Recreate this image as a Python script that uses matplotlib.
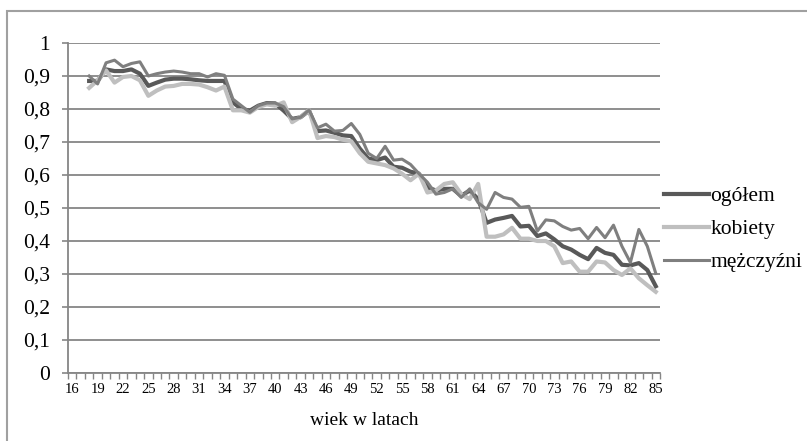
import numpy as np
import matplotlib
matplotlib.use("Agg")
import matplotlib.pyplot as plt
from matplotlib.patches import Rectangle
from matplotlib.ticker import FixedLocator, FuncFormatter

plt.rcParams['font.family'] = ['Liberation Serif', 'DejaVu Serif']

# wiek 18-85
wiek = np.arange(18, 86)

ogolem = [0.885, 0.885, 0.920, 0.915, 0.915, 0.920, 0.907, 0.870, 0.880, 0.889,
          0.892, 0.892, 0.890, 0.887, 0.885, 0.885, 0.885, 0.820, 0.800, 0.795,
          0.810, 0.818, 0.817, 0.795, 0.770, 0.775, 0.795, 0.733, 0.735, 0.728,
          0.720, 0.718, 0.680, 0.650, 0.645, 0.653, 0.625, 0.622, 0.610, 0.604,
          0.563, 0.553, 0.558, 0.558, 0.537, 0.553, 0.527, 0.455, 0.465, 0.470,
          0.476, 0.444, 0.446, 0.415, 0.423, 0.405, 0.384, 0.374, 0.358, 0.345,
          0.379, 0.364, 0.358, 0.328, 0.326, 0.333, 0.312, 0.263]

kobiety = [0.864, 0.887, 0.917, 0.880, 0.897, 0.900, 0.887, 0.840, 0.856, 0.868,
           0.870, 0.876, 0.876, 0.874, 0.866, 0.856, 0.868, 0.796, 0.796, 0.789,
           0.806, 0.814, 0.810, 0.820, 0.760, 0.776, 0.797, 0.712, 0.718, 0.715,
           0.707, 0.702, 0.666, 0.640, 0.635, 0.630, 0.620, 0.604, 0.584, 0.604,
           0.547, 0.553, 0.573, 0.578, 0.542, 0.527, 0.573, 0.413, 0.413, 0.420,
           0.440, 0.407, 0.407, 0.400, 0.400, 0.384, 0.333, 0.338, 0.307, 0.307,
           0.338, 0.335, 0.312, 0.297, 0.317, 0.287, 0.266, 0.246]

mezczyzni = [0.900, 0.876, 0.940, 0.948, 0.928, 0.938, 0.943, 0.900, 0.907, 0.912,
             0.915, 0.912, 0.907, 0.907, 0.897, 0.907, 0.902, 0.830, 0.810, 0.790,
             0.810, 0.818, 0.818, 0.807, 0.770, 0.775, 0.797, 0.743, 0.754, 0.733,
             0.735, 0.756, 0.723, 0.666, 0.650, 0.687, 0.645, 0.648, 0.632, 0.604,
             0.578, 0.542, 0.547, 0.558, 0.532, 0.558, 0.516, 0.496, 0.547, 0.532,
             0.527, 0.502, 0.505, 0.430, 0.464, 0.461, 0.444, 0.433, 0.438, 0.407,
             0.441, 0.410, 0.448, 0.384, 0.335, 0.435, 0.384, 0.302]

etykiety_x = np.arange(16, 86, 3)

fig = plt.figure(figsize=(8.07, 4.41), dpi=100)
ax = fig.add_axes([68 / 807, 1 - 373 / 441, 592 / 807, 330 / 441])

grid_col = '#868686'

ax.plot(wiek, ogolem, color='#595959', lw=3.0, label='ogółem', solid_joinstyle='round')
ax.plot(wiek, kobiety, color='#bfbfbf', lw=3.0, label='kobiety', solid_joinstyle='round')
ax.plot(wiek, mezczyzni, color='#7f7f7f', lw=2.2, label='mężczyźni', solid_joinstyle='round')

ax.set_xlim(15.5, 85.5)
ax.set_ylim(0, 1)

# y axis
ax.set_yticks(np.arange(0, 1.01, 0.1))
ax.yaxis.set_major_formatter(FuncFormatter(lambda v, p: ('%g' % round(v, 1)).replace('.', ',')))
ax.yaxis.grid(True, color=grid_col, lw=1.3)
ax.set_axisbelow(True)
ax.tick_params(axis='y', length=4, width=1.2, color=grid_col, labelsize=15.5, pad=9)

# x axis: ticks between categories, labels every third category
ax.xaxis.set_major_locator(FixedLocator(np.arange(15.5, 86, 1)))
ax.xaxis.set_major_formatter(FuncFormatter(lambda v, p: ''))
ax.xaxis.set_minor_locator(FixedLocator(etykiety_x))
ax.xaxis.set_minor_formatter(FuncFormatter(lambda v, p: '%d' % v))
ax.tick_params(axis='x', which='major', length=4, width=1.0, color=grid_col)
ax.tick_params(axis='x', which='minor', length=0, labelsize=10.5, pad=7)
ax.set_xlabel('wiek w latach', fontsize=14, labelpad=12)

for s in ['top', 'right']:
    ax.spines[s].set_visible(False)
for s in ['left', 'bottom']:
    ax.spines[s].set_color(grid_col)
    ax.spines[s].set_linewidth(1.3)

leg = fig.legend(loc='upper left', bbox_to_anchor=(664 / 807, 1 - 186 / 441),
                 frameon=False, fontsize=15.5, handlelength=2.1,
                 handletextpad=0.05, labelspacing=0.6, borderaxespad=0, borderpad=0)

# outer chart frame
fig.patches.append(Rectangle((7 / 807, -0.2), 1.2, 1.2 - 11 / 441,
                             transform=fig.transFigure, fill=False,
                             edgecolor='#a0a0a0', lw=1.5))

fig.savefig('out.png', dpi=100)
